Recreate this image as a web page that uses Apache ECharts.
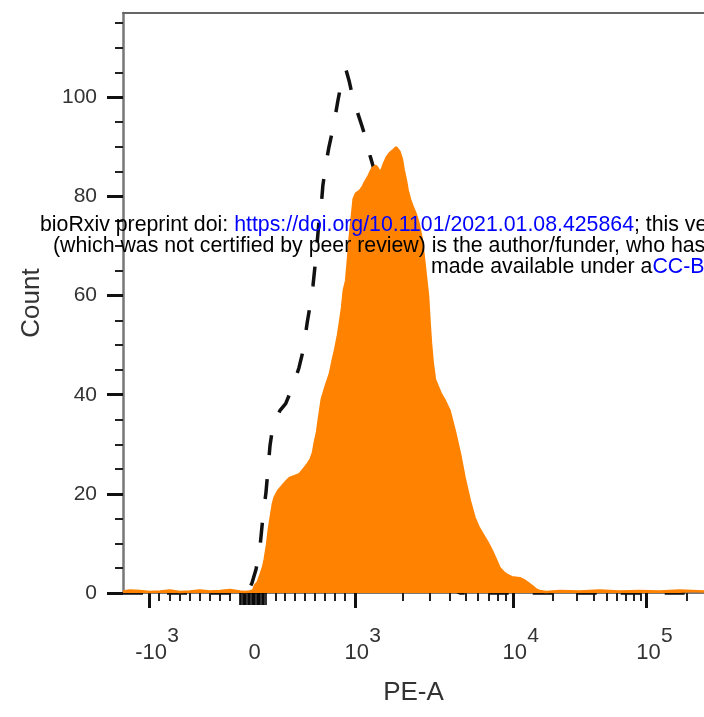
<!DOCTYPE html>
<html><head><meta charset="utf-8">
<script src="https://cdn.jsdelivr.net/npm/echarts@6/dist/echarts.min.js"></script>
<style>html,body{margin:0;padding:0;background:#fff}#c{width:704px;height:717px}</style>
</head><body><div id="c"></div>
<script>
// ---- axis definitions ----
const yMax = 117;
const yLabelValues = [0, 20, 40, 60, 80, 100];
const yMinorValues = [5, 10, 15, 25, 30, 35, 45, 50, 55, 65, 70, 75, 85, 90, 95, 105, 110, 115];
const xLabelValues = [-1000, 0, 1000, 10000, 100000];
const xLabelBase = ['-10', '0', '10', '10', '10'];
const xLabelExp = ['3', '', '3', '4', '5'];
const xMajorValues = [-1000, 1000, 10000, 100000];
const xMinorValues = [-900, -800, -700, -600, -500, -400, -300, -200, 200, 300, 400, 500, 600, 700, 800, 900,
  2000, 3000, 4000, 5000, 6000, 7000, 8000, 9000, 20000, 30000, 40000, 50000, 60000, 70000, 80000, 90000, 200000];
const xDenseValues = [-100, -90, -80, -70, -60, -50, -40, -30, -20, -10, 0, 10, 20, 30, 40, 50, 60, 70, 80, 90, 100];
// biexponential display scale: PE-A value -> display channel (0..1000)
const scaleValues = [-1000, -100, 0, 100, 1000, 10000, 100000];
const scaleChannels = [45, 201, 223, 245, 399, 671, 901];

// ---- histograms: [display channel, count] ----
const stainedHistogram = [
  [0,0.3],[12,0.5],[29,0.4],[46,0.2],[64,0.3],[81,0.5],[98,0.2],[115,0.3],[132,0.5],[150,0.3],[167,0.4],[184,0.6],[201,0.3],[210,0.2],[218,0.3],
  [224,0.5],[227,1.5],[232,2.2],[237,3.8],[241,5.2],[244,6.8],[248,9.8],[251,12.8],[255,15.8],[258,18.0],[261,19.3],[267,20.6],[274,21.6],
  [280,22.4],[287,23.2],[296,23.6],[304,24.0],[313,25.3],[318,26.1],[323,27.0],[327,28.3],[330,30.3],[334,32.5],[337,35.0],[342,39.0],
  [349,41.8],[356,44.2],[361,47.0],[365,49.0],[370,52.0],[373,54.3],[377,57.5],[380,61.0],[384,63.0],[387,67.0],[390,71.5],[394,76.0],
  [397,79.5],[401,80.6],[408,81.2],[413,82.0],[416,82.8],[420,83.6],[423,84.2],[427,85.2],[430,85.8],[435,86.2],[439,85.6],[442,84.8],
  [446,85.6],[449,86.6],[454,87.9],[459,88.7],[464,89.2],[470,89.9],[473,89.8],[476,89.0],[480,87.5],[483,85.4],[487,83.2],[490,81.2],
  [494,79.4],[499,77.8],[504,76.4],[509,74.4],[514,71.5],[518,67.5],[521,64.2],[525,60.0],[528,54.0],[530,50.5],[533,46.5],[537,43.0],
  [542,41.6],[547,40.2],[554,38.8],[562,36.8],[571,32.7],[580,28.1],[588,23.2],[597,18.6],[605,15.2],[612,13.3],[619,11.9],[628,10.1],
  [635,8.5],[642,6.7],[648,5.1],[655,4.2],[662,3.6],[669,3.2],[676,3.1],[683,3.0],[690,2.6],[697,2.0],[704,1.4],[710,0.8],[717,0.4],
  [728,0.2],[752,0.4],[786,0.3],[820,0.5],[855,0.3],[889,0.4],[924,0.3],[958,0.5],[1000,0.3]
];
const controlHistogram = [
  [0,0],[210,0],[215,0.3],[222,2],[229,4.8],[236,9.5],[241,15.6],[246,20.2],[249,24.2],[253,29.7],[256,32.1],[261,34.3],[270,36.8],
  [280,38.2],[287,40.2],[294,42.2],[303,45.5],[310,48.9],[317,54.5],[322,58],[327,62],[332,67.7],[337,74.5],[341,77.8],[344,82.2],
  [349,86.3],[354,89.7],[360,92.9],[365,96],[370,99.4],[375,102.4],[378,104],[384,105.5],[389,103.4],[394,100.8],[399,98.8],[404,96.8],
  [411,94.3],[418,91.7],[425,88.3],[430,86.3],[442,80],[459,68],[476,52],[494,34],[511,18],[528,8],[545,3],[562,1],[580,0],[1000,0]
];

function chan(v) {
  const V = scaleValues, C = scaleChannels, L = Math.log10;
  if (v >= 1000) {
    for (let i = 4; i < V.length - 1; i++) {
      if (v <= V[i + 1]) return C[i] + (L(v) - L(V[i])) / (L(V[i + 1]) - L(V[i])) * (C[i + 1] - C[i]);
    }
    const n = V.length - 1;
    return C[n] + (L(v) - L(V[n])) / (L(V[n]) - L(V[n - 1])) * (C[n] - C[n - 1]);
  }
  for (let i = 0; i < 4; i++) {
    if (v <= V[i + 1]) return C[i] + (v - V[i]) / (V[i + 1] - V[i]) * (C[i + 1] - C[i]);
  }
  return C[0];
}

const FONT = '"Liberation Sans", Arial, Helvetica, sans-serif';
const labelChannels = xLabelValues.map(chan);
const baseX = { type: 'value', min: 0, max: 1000, gridIndex: 0, splitLine: { show: false }, axisLabel: { show: false }, axisLine: { show: false } };
const baseY = { type: 'value', min: 0, max: yMax, gridIndex: 0, splitLine: { show: false }, axisLabel: { show: false }, axisLine: { show: false } };

const option = {
  animation: false,
  backgroundColor: '#fff',
  grid: { left: 123, right: 0, top: 13, bottom: 124, containLabel: false, outerBoundsMode: 'none' },
  xAxis: [
    Object.assign({}, baseX, {
      position: 'bottom',
      name: 'PE-A', nameLocation: 'middle', nameGap: 87,
      nameTextStyle: { fontFamily: FONT, fontSize: 26, color: '#333' },
      axisLine: { show: true, onZero: false, lineStyle: { color: '#777', width: 2 } },
      axisTick: { show: true, customValues: xMajorValues.map(chan), length: 15, lineStyle: { color: '#111', width: 3 } },
      axisLabel: {
        show: true, customValues: labelChannels, margin: 33,
        formatter: function (val) {
          let k = 0, best = 1e9;
          labelChannels.forEach((c, i) => { if (Math.abs(c - val) < best) { best = Math.abs(c - val); k = i; } });
          return '{p| }{b|' + xLabelBase[k] + '}{s|' + (xLabelExp[k] || ' ') + '}';
        },
        rich: {
          p: { width: 16, fontSize: 10 },
          b: { fontFamily: FONT, fontSize: 22, color: '#333', height: 22, verticalAlign: 'bottom' },
          s: { fontFamily: FONT, fontSize: 21, color: '#333', width: 12, height: 20, align: 'left', padding: [0, 0, 18, 0], verticalAlign: 'top' }
        }
      }
    }),
    Object.assign({}, baseX, {
      position: 'bottom',
      axisTick: { show: true, customValues: xMinorValues.map(chan), length: 8, lineStyle: { color: '#222', width: 2 } }
    }),
    Object.assign({}, baseX, {
      position: 'bottom',
      axisTick: { show: true, customValues: xDenseValues.map(chan), length: 12, lineStyle: { color: '#000', width: 1.6 } }
    }),
    Object.assign({}, baseX, {
      position: 'top',
      axisLine: { show: true, onZero: false, lineStyle: { color: '#666', width: 2 } },
      axisTick: { show: false }
    })
  ],
  yAxis: [
    Object.assign({}, baseY, {
      position: 'left',
      name: 'Count', nameLocation: 'middle', nameGap: 78,
      nameTextStyle: { fontFamily: FONT, fontSize: 26, color: '#333' },
      axisLine: { show: true, onZero: false, lineStyle: { color: '#777', width: 2.5 } },
      axisTick: { show: true, customValues: yLabelValues, length: 16, lineStyle: { color: '#111', width: 3 } },
      axisLabel: { show: true, customValues: yLabelValues, margin: 26, fontFamily: FONT, fontSize: 21, color: '#333' }
    }),
    Object.assign({}, baseY, {
      position: 'left',
      axisTick: { show: true, customValues: yMinorValues, length: 8, lineStyle: { color: '#222', width: 2 } }
    })
  ],
  series: [
    {
      name: 'control', type: 'line', xAxisIndex: 0, yAxisIndex: 0,
      data: controlHistogram, symbol: 'none', silent: true, clip: false, z: 2,
      lineStyle: { color: '#111', width: 3.5, type: [20, 24], cap: 'butt' }
    },
    {
      name: 'PE', type: 'line', xAxisIndex: 0, yAxisIndex: 0,
      data: stainedHistogram, symbol: 'none', silent: true, clip: false, z: 3,
      lineStyle: { color: '#FF8200', width: 2.5 },
      areaStyle: { color: '#FF8200', opacity: 1 }
    }
  ],
  graphic: [
    { type: 'text', x: 40, y: 225, z: 100, silent: true,
      style: { verticalAlign: 'middle', align: 'left',
        text: '{k|bioRxiv preprint doi: }{u|https://doi.org/10.1101/2021.01.08.425864}{k|; this version posted January 8, 2021. The copyright holder for this preprint}',
        rich: { k: { fill: '#000', fontSize: 21.3, fontFamily: FONT }, u: { fill: '#0000FF', fontSize: 21.3, fontFamily: FONT } } } },
    { type: 'text', x: 53, y: 246, z: 100, silent: true,
      style: { verticalAlign: 'middle', align: 'left',
        text: '{k|(which was not certified by peer review) is the author/funder, who has granted bioRxiv a license to display the preprint in perpetuity. It is}',
        rich: { k: { fill: '#000', fontSize: 21.3, fontFamily: FONT } } } },
    { type: 'text', x: 431, y: 267, z: 100, silent: true,
      style: { verticalAlign: 'middle', align: 'left',
        text: '{k|made available under a}{u|CC-BY 4.0 International license.}',
        rich: { k: { fill: '#000', fontSize: 21.3, fontFamily: FONT }, u: { fill: '#0000FF', fontSize: 21.3, fontFamily: FONT } } } }
  ]
};
const chart = echarts.init(document.getElementById('c'), null, { renderer: 'canvas' });
chart.setOption(option);
</script>
</body></html>
